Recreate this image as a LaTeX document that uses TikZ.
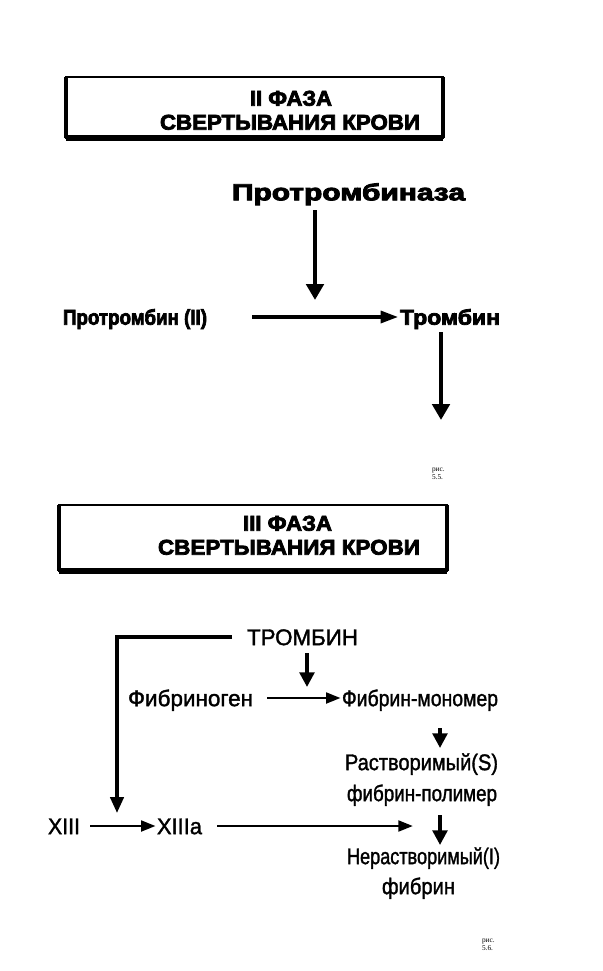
\documentclass[tikz,border=0pt]{standalone}
\usepackage{fontspec}
\setmainfont{Liberation Sans}
\newfontfamily\heavyfont[FakeBold=3.5]{Liberation Sans Bold}
\newfontfamily\midfont[FakeBold=1.6]{Liberation Sans}
\newfontfamily\smallserif{Liberation Serif}
\usetikzlibrary{arrows.meta}
\newlength\pxu
\setlength\pxu{0.75pt}
\newcommand{\fw}[2]{\resizebox{#1\pxu}{\height}{#2}}
\begin{document}
\begin{tikzpicture}[x=0.75pt,y=-0.75pt,
  every node/.style={inner sep=0pt,outer sep=0pt},
  toptxt/.style={font=\heavyfont\fontsize{16}{18}\selectfont,text height=11.5pt,text depth=0pt},
  bigtxt/.style={font=\heavyfont\fontsize{17.5}{20}\selectfont,text height=12.5pt,text depth=0pt},
  bottxt/.style={font=\midfont\fontsize{17}{20}\selectfont,text height=12.2pt,text depth=0pt},
  figtxt/.style={font=\smallserif\fontsize{5.5}{6}\selectfont,align=left,anchor=north west},
  boxframe/.style={draw,line width=1.5pt,inner sep=0pt},
  thickarr/.style={line width=3.2pt,-{Triangle[length=12pt,width=13pt]}},
  midarr/.style={line width=2.4pt,-{Triangle[length=13pt,width=9pt]}},
  botarr/.style={line width=2.2pt,-{Triangle[length=11pt,width=8pt]}},
  botvarr/.style={line width=2.6pt,-{Triangle[length=11pt,width=11pt]}},
  botline/.style={line width=2.6pt},
]
\useasboundingbox (0,0) rectangle (603,971);

% ---------- Box II ----------
\node[boxframe,minimum width=377\pxu,minimum height=61\pxu] (box1) at (254.5,107.5) {};
\draw[line width=4pt] (box1.south west) -- (box1.south east);
\draw[line width=3pt] (box1.north west) -- (box1.south west);
\draw[line width=3pt] (box1.north east) -- (box1.south east);
\node[toptxt] (t1a) at (291,98) {\fw{82}{II ФАЗА}};
\node[toptxt] (t1b) at (290,122) {\fw{260}{СВЕРТЫВАНИЯ КРОВИ}};

% ---------- Phase II scheme ----------
\node[bigtxt] (ptase) at (348.5,192) {\fw{233}{Протромбиназа}};
\node[toptxt] (ptin) at (135,317) {\fw{144}{Протромбин (II)}};
\node[toptxt] (trom) at (450,317) {\fw{100}{Тромбин}};
\coordinate (a1s) at (315,210);
\coordinate (a1e) at (315,300);
\coordinate (a2s) at (252,317);
\coordinate (a3s) at (441,332);
\coordinate (a3e) at (441,420);
\draw[thickarr] (a1s) -- (a1e);
\draw[midarr] (a2s) -- ([xshift=-1.5pt]trom.west);
\draw[thickarr] (a3s) -- (a3e);

\node[figtxt] (fig1) at (432,468) {рис.\\5.5.};

% ---------- Box III ----------
\node[boxframe,minimum width=388\pxu,minimum height=66\pxu] (box2) at (253,538) {};
\draw[line width=4pt] (box2.south west) -- (box2.south east);
\draw[line width=3pt] (box2.north west) -- (box2.south west);
\draw[line width=3pt] (box2.north east) -- (box2.south east);
\node[toptxt] (t2a) at (287.5,523) {\fw{89}{III ФАЗА}};
\node[toptxt] (t2b) at (289,547) {\fw{262}{СВЕРТЫВАНИЯ КРОВИ}};

% ---------- Phase III scheme ----------
\node[bottxt] (trom2) at (302.5,637) {\fw{111}{ТРОМБИН}};
\node[bottxt] (fgen) at (190.5,698) {\fw{125}{Фибриноген}};
\node[bottxt] (fmon) at (420,698) {\fw{156}{Фибрин-мономер}};
\node[bottxt] (sol) at (421.5,762) {\fw{153}{Растворимый(S)}};
\node[bottxt] (solb) at (422,793) {\fw{150}{фибрин-полимер}};
\node[bottxt] (x13) at (64,826) {\fw{32}{XIII}};
\node[bottxt] (x13a) at (179.5,826) {\fw{45}{XIIIa}};
\node[bottxt] (insol) at (423.5,856) {\fw{153}{Нерастворимый(I)}};
\node[bottxt] (insolb) at (418.5,886) {\fw{73}{фибрин}};

\coordinate (c1) at (232,637);
\coordinate (c2) at (117,813);
\draw[botline,-{Triangle[length=12pt,width=10pt]}] (c1) -| (c2);
\coordinate (d1s) at (307,653);
\coordinate (d1e) at (307,687);
\draw[botvarr] (d1s) -- (d1e);
\coordinate (h1s) at (267,698);
\draw[botarr] (h1s) -- ([xshift=-1pt]fmon.west);
\coordinate (d2s) at (440,728);
\coordinate (d2e) at (440,748);
\draw[botvarr] (d2s) -- (d2e);
\coordinate (d3s) at (440,815);
\coordinate (d3e) at (440,845);
\draw[botvarr] (d3s) -- (d3e);
\coordinate (h2s) at (90,826);
\draw[botarr] (h2s) -- ([xshift=-1pt]x13a.west);
\coordinate (h3s) at (217,826);
\coordinate (h3e) at (413,826);
\draw[botarr] (h3s) -- (h3e);

\node[figtxt] (fig2) at (482,939) {рис.\\5.6.};
\end{tikzpicture}
\end{document}
